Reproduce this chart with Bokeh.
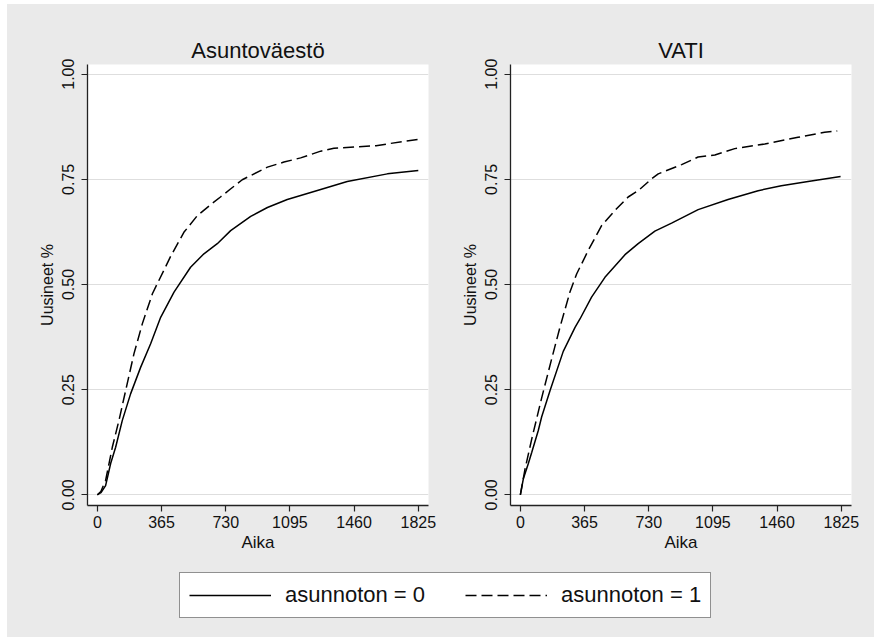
from bokeh.plotting import figure
from bokeh.layouts import column, row
from bokeh.models import (FixedTicker, Range1d, Legend, LegendItem)
from bokeh.embed import file_html
from bokeh.resources import INLINE

# ---------------- data ----------------
x_ticks = [0, 365, 730, 1095, 1460, 1825]
y_ticks = [0.0, 0.25, 0.5, 0.75, 1.0]
y_tick_labels = ["0.00", "0.25", "0.50", "0.75", "1.00"]

panel_titles = ["Asuntoväestö", "VATI"]
series_labels = ["asunnoton = 0", "asunnoton = 1"]

# Asuntoväestö
asunto_d0 = [0, 20, 47, 76, 104, 142, 189, 246, 303, 360, 436, 530, 606, 682, 758,
             872, 967, 1080, 1270, 1421, 1649, 1825]
asunto_v0 = [0.0, 0.005, 0.022, 0.075, 0.113, 0.177, 0.240, 0.303, 0.359, 0.422, 0.482,
             0.541, 0.573, 0.597, 0.628, 0.662, 0.683, 0.702, 0.726, 0.745, 0.763, 0.771]
asunto_d1 = [0, 20, 47, 85, 123, 161, 208, 256, 313, 341, 417, 492, 569, 645, 700, 757,
             824, 872, 967, 1061, 1156, 1270, 1345, 1585, 1738, 1825]
asunto_v1 = [0.0, 0.008, 0.034, 0.113, 0.177, 0.248, 0.335, 0.407, 0.478, 0.502, 0.567,
             0.624, 0.664, 0.690, 0.708, 0.727, 0.749, 0.759, 0.779, 0.791, 0.801, 0.817,
             0.824, 0.830, 0.840, 0.845]

# VATI
vati_d0 = [0, 17, 45, 65, 102, 121, 169, 244, 311, 339, 405, 481, 595, 670, 765, 860,
           1011, 1181, 1352, 1484, 1636, 1821]
vati_v0 = [0.0, 0.038, 0.074, 0.101, 0.153, 0.185, 0.248, 0.341, 0.398, 0.418, 0.470,
           0.517, 0.571, 0.597, 0.627, 0.646, 0.678, 0.702, 0.723, 0.735, 0.745, 0.757]
vati_d1 = [0, 27, 65, 121, 178, 225, 282, 320, 386, 462, 547, 613, 670, 746, 784, 917,
           1011, 1106, 1219, 1390, 1579, 1730, 1802]
vati_v1 = [0.0, 0.062, 0.133, 0.230, 0.323, 0.398, 0.482, 0.525, 0.581, 0.640, 0.680,
           0.708, 0.723, 0.751, 0.763, 0.785, 0.803, 0.808, 0.823, 0.834, 0.850, 0.862,
           0.865]

# ---------------- styling ----------------
BG = "#EAEAEA"
FONT = "Liberation Sans"
DASH = "11 5"
LW = 1.5
TOP_H = 560


def make_panel(title, d0, v0, d1, v1, width, left, right):
    p = figure(width=width, height=TOP_H, output_backend="svg", toolbar_location=None,
               x_range=Range1d(-56, 1883), y_range=Range1d(-0.0254, 1.023),
               min_border_left=left, min_border_right=right,
               min_border_top=60, min_border_bottom=TOP_H - 60 - 441)
    p.title.text = title
    p.title.align = "center"
    p.title.text_font = FONT
    p.title.text_font_size = "22px"
    p.title.text_font_style = "normal"
    p.title.text_color = "#111111"
    p.title.standoff = 3
    p.border_fill_color = BG
    p.background_fill_color = "white"
    p.outline_line_color = None
    p.styles = {"background-color": BG}

    p.xgrid.visible = False
    p.ygrid.ticker = FixedTicker(ticks=y_ticks)
    p.ygrid.grid_line_color = "#DEDEDE"
    p.ygrid.grid_line_width = 1.2

    xa = p.xaxis[0]
    xa.ticker = FixedTicker(ticks=x_ticks)
    xa.axis_label = "Aika"
    ya = p.yaxis[0]
    ya.ticker = FixedTicker(ticks=y_ticks)
    ya.major_label_overrides = {t: l for t, l in zip(y_ticks, y_tick_labels)}
    ya.axis_label = "Uusineet %"
    ya.major_label_orientation = "vertical"
    for ax in (xa, ya):
        ax.axis_line_color = "#222222"
        ax.axis_line_width = 1.3
        ax.major_tick_line_color = "#222222"
        ax.major_tick_line_width = 1.2
        ax.major_tick_in = 0
        ax.major_tick_out = 6
        ax.minor_tick_line_color = None
        ax.major_label_text_font = FONT
        ax.major_label_text_font_size = "16px"
        ax.major_label_text_color = "#111111"
        ax.axis_label_text_font = FONT
        ax.axis_label_text_font_style = "normal"
        ax.axis_label_text_color = "#111111"
    xa.major_label_standoff = 4
    xa.axis_label_standoff = 2
    ya.major_label_standoff = 7
    ya.axis_label_standoff = 4
    xa.axis_label_text_font_size = "17px"
    ya.axis_label_text_font_size = "16px"

    p.line(d0, v0, line_color="black", line_width=LW)
    p.line(d1, v1, line_color="black", line_width=LW, line_dash=DASH)
    return p


p1 = make_panel(panel_titles[0], asunto_d0, asunto_v0, asunto_d1, asunto_v1,
                width=446, left=80, right=25)
p2 = make_panel(panel_titles[1], vati_d0, vati_v0, vati_d1, vati_v1,
                width=421, left=57, right=23)

# ---------------- legend strip ----------------
# the legend proxies reuse the data, but the strip's ranges keep them out of view
pl = figure(width=867, height=73, output_backend="svg", toolbar_location=None,
            x_range=Range1d(-3, -2), y_range=Range1d(-3, -2),
            x_axis_type=None, y_axis_type=None, min_border=0)
pl.border_fill_color = BG
pl.background_fill_color = BG
pl.outline_line_color = None
pl.grid.visible = False
pl.styles = {"background-color": BG}
r0 = pl.line(asunto_d0, asunto_v0, line_color="black", line_width=LW)
r1 = pl.line(asunto_d1, asunto_v1, line_color="black", line_width=LW, line_dash=DASH)
legend = Legend(items=[LegendItem(label=series_labels[0], renderers=[r0]),
                       LegendItem(label=series_labels[1], renderers=[r1])],
                orientation="horizontal", location=(172, 19), margin=0,
                padding=9, spacing=40, label_standoff=14,
                glyph_width=82, glyph_height=22,
                label_text_font=FONT, label_text_font_size="22px",
                label_text_color="#111111",
                border_line_color="#222222", border_line_width=1.5,
                background_fill_color="white", background_fill_alpha=1.0)
pl.add_layout(legend, "center")

top = row(p1, p2, spacing=0)
top.styles = {"background-color": BG}
layout = column(top, pl, spacing=0)
layout.styles = {"background-color": BG}
layout.margin = (4, 0, 0, 7)

open("out.html", "w").write(file_html(layout, INLINE))
